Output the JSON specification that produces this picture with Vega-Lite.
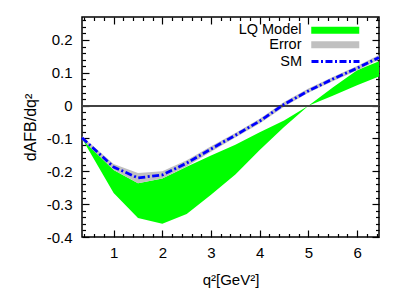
{
 "$schema": "https://vega.github.io/schema/vega-lite/v6.json",
 "width": 297, "height": 220,
 "autosize": {"type": "none"},
 "padding": {"left": 82, "top": 17, "right": 30, "bottom": 63},
 "background": "white",
 "config": {
   "view": {"stroke": "#000", "strokeWidth": 1.5},
   "font": "Liberation Sans",
   "axis": {"grid": false, "domain": false, "tickColor": "#000", "tickWidth": 1.2, "labelFont": "Liberation Sans", "labelFontSize": 15, "labelColor": "#000", "titleFont": "Liberation Sans", "titleFontSize": 15, "titleFontWeight": "normal", "titleColor": "#000"},
   "legend": {"labelFont": "Liberation Sans", "labelFontSize": 14.5, "labelColor": "#000", "labelAlign": "right", "labelOffset": -41, "padding": 0, "rowPadding": -0.5, "symbolSize": 144, "orient": "none"}
 },
 "data": {"values": [
  {"q": 0.35, "lq_lo": -0.100, "lq_hi": -0.100, "err_lo": -0.104, "err_hi": -0.093, "sm": -0.098},
  {"q": 1.0, "lq_lo": -0.266, "lq_hi": -0.196, "err_lo": -0.196, "err_hi": -0.178, "sm": -0.187},
  {"q": 1.5, "lq_lo": -0.342, "lq_hi": -0.236, "err_lo": -0.236, "err_hi": -0.205, "sm": -0.220},
  {"q": 2.0, "lq_lo": -0.360, "lq_hi": -0.222, "err_lo": -0.222, "err_hi": -0.200, "sm": -0.211},
  {"q": 2.5, "lq_lo": -0.330, "lq_hi": -0.186, "err_lo": -0.185, "err_hi": -0.166, "sm": -0.175},
  {"q": 3.0, "lq_lo": -0.271, "lq_hi": -0.152, "err_lo": -0.140, "err_hi": -0.124, "sm": -0.132},
  {"q": 3.5, "lq_lo": -0.210, "lq_hi": -0.119, "err_lo": -0.097, "err_hi": -0.083, "sm": -0.090},
  {"q": 4.0, "lq_lo": -0.135, "lq_hi": -0.081, "err_lo": -0.054, "err_hi": -0.040, "sm": -0.047},
  {"q": 4.5, "lq_lo": -0.065, "lq_hi": -0.045, "err_lo": -0.003, "err_hi": 0.011, "sm": 0.004},
  {"q": 5.0, "lq_lo": 0.0, "lq_hi": 0.0, "err_lo": 0.039, "err_hi": 0.052, "sm": 0.045},
  {"q": 5.5, "lq_lo": 0.030, "lq_hi": 0.055, "err_lo": 0.074, "err_hi": 0.087, "sm": 0.081},
  {"q": 6.0, "lq_lo": 0.062, "lq_hi": 0.108, "err_lo": 0.107, "err_hi": 0.121, "sm": 0.114},
  {"q": 6.45, "lq_lo": 0.089, "lq_hi": 0.135, "err_lo": 0.140, "err_hi": 0.154, "sm": 0.147}
 ]},
 "layer": [
  {
   "mark": {"type": "area", "opacity": 1},
   "encoding": {
    "x": {"field": "q", "type": "quantitative", "scale": {"domain": [0.35, 6.45], "nice": false, "zero": false},
          "axis": {"orient": "bottom", "values": [1,2,3,4,5,6], "tickSize": -7, "labelPadding": 15, "title": "q²[GeV²]", "titlePadding": 12}},
    "y": {"field": "lq_lo", "type": "quantitative", "scale": {"domain": [-0.4, 0.27], "nice": false, "zero": false},
          "axis": {"orient": "left", "values": [-0.4,-0.3,-0.2,-0.1,0,0.1,0.2], "tickSize": -7, "labelPadding": 17, "labelExpr": "'' + round(datum.value*10)/10", "title": "dAFB/dq²", "titlePadding": 8, "titleFontSize": 16}},
    "y2": {"field": "lq_hi"},
    "color": {"datum": "LQ Model", "type": "nominal",
      "scale": {"domain": ["LQ Model", "Error"], "range": ["#00ff00", "#c0c0c0"]},
      "legend": {"title": null, "orient": "none", "legendX": 246, "legendY": 6, "symbolType": "M-4,-0.6H4V0.6H-4Z", "symbolOpacity": 1}}
   }
  },
  {
   "mark": {"type": "area", "opacity": 1},
   "encoding": {
    "x": {"field": "q", "type": "quantitative", "scale": {"domain": [0.35, 6.45], "nice": false, "zero": false},
          "axis": {"orient": "bottom", "values": [0.4,0.6,0.8,1.2,1.4,1.6,1.8,2.2,2.4,2.6,2.8,3.2,3.4,3.6,3.8,4.2,4.4,4.6,4.8,5.2,5.4,5.6,5.8,6.2,6.4], "tickSize": -3.5, "labels": false, "title": null}},
    "y": {"field": "err_lo", "type": "quantitative", "scale": {"domain": [-0.4, 0.27], "nice": false, "zero": false},
          "axis": {"orient": "left", "values": [-0.38,-0.36,-0.34,-0.32,-0.28,-0.26,-0.24,-0.22,-0.18,-0.16,-0.14,-0.12,-0.08,-0.06,-0.04,-0.02,0.02,0.04,0.06,0.08,0.12,0.14,0.16,0.18,0.22,0.24,0.26], "tickSize": -3.5, "labels": false, "title": null}},
    "y2": {"field": "err_hi"},
    "color": {"datum": "Error", "type": "nominal"}
   }
  },
  {
   "mark": {"type": "rule", "color": "#404040", "strokeWidth": 1.2},
   "encoding": {"y": {"datum": 0, "type": "quantitative", "axis": null}}
  },
  {
   "mark": {"type": "line", "strokeWidth": 2.8, "color": "#0000ff"},
   "encoding": {
    "x": {"field": "q", "type": "quantitative", "scale": {"domain": [0.35, 6.45], "nice": false, "zero": false},
          "axis": {"orient": "top", "values": [1,2,3,4,5,6], "tickSize": -7, "labels": false, "title": null}},
    "y": {"field": "sm", "type": "quantitative", "scale": {"domain": [-0.4, 0.27], "nice": false, "zero": false},
          "axis": {"orient": "right", "values": [-0.4,-0.3,-0.2,-0.1,0,0.1,0.2], "tickSize": -7, "labels": false, "title": null}},
    "strokeDash": {"datum": "SM", "type": "nominal", "scale": {"domain": ["SM"], "range": [[7,2.5,2,2.5]]},
      "legend": {"title": null, "orient": "none", "legendX": 246, "legendY": 37, "symbolType": "M-4,0H4", "symbolStrokeColor": "#0000ff", "symbolStrokeWidth": 2.8}}
   }
  },
  {
   "mark": {"type": "point", "opacity": 0},
   "encoding": {
    "x": {"field": "q", "type": "quantitative", "scale": {"domain": [0.35, 6.45], "nice": false, "zero": false},
          "axis": {"orient": "top", "values": [0.4,0.6,0.8,1.2,1.4,1.6,1.8,2.2,2.4,2.6,2.8,3.2,3.4,3.6,3.8,4.2,4.4,4.6,4.8,5.2,5.4,5.6,5.8,6.2,6.4], "tickSize": -3.5, "labels": false, "title": null}},
    "y": {"field": "sm", "type": "quantitative", "scale": {"domain": [-0.4, 0.27], "nice": false, "zero": false},
          "axis": {"orient": "right", "values": [-0.38,-0.36,-0.34,-0.32,-0.28,-0.26,-0.24,-0.22,-0.18,-0.16,-0.14,-0.12,-0.08,-0.06,-0.04,-0.02,0.02,0.04,0.06,0.08,0.12,0.14,0.16,0.18,0.22,0.24,0.26], "tickSize": -3.5, "labels": false, "title": null}}
   }
  }
 ],
 "resolve": {"axis": {"x": "independent", "y": "independent"}}
}
